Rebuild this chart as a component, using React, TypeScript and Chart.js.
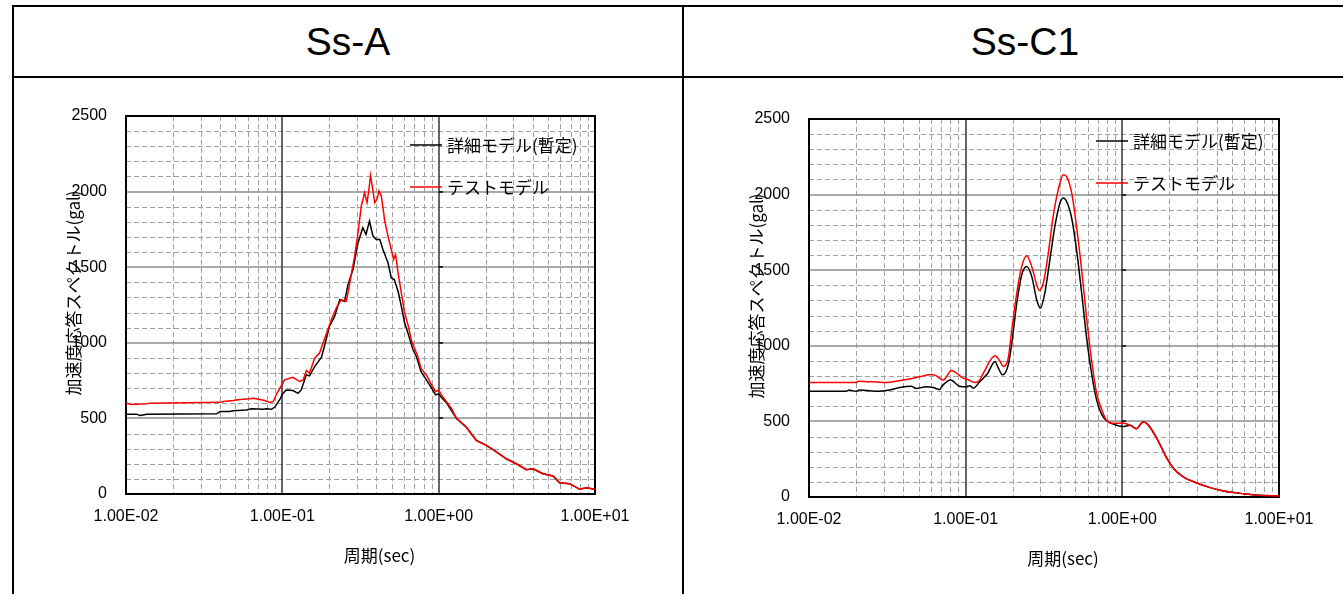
import React, { useEffect, useRef } from "react";
import { Chart, registerables } from "chart.js";

Chart.register(...registerables);

// ---- texts ----
const PANEL_TITLES = ["Ss-A", "Ss-C1"];
const SERIES_LABELS = ["詳細モデル(暫定)", "テストモデル"];
const SERIES_COLORS = ["#000000", "#ff0000"];
const X_TITLE = "周期(sec)";
const Y_TITLE = "加速度応答スペクトル(gal)";

// ---- axis ticks ----
const PERIOD_DECADES = [0.01, 0.1, 1, 10];
const PERIOD_MINOR_MULTIPLIERS = [2, 3, 4, 5, 6, 7, 8, 9];
const ACCEL_MAJOR_TICKS = [0, 500, 1000, 1500, 2000, 2500];
const ACCEL_MINOR_STEP = 100;

// ---- Ss-A ----
const ssA_detailPeriod = [0.01, 0.0117, 0.0123, 0.0136, 0.038, 0.04, 0.046, 0.0486, 0.059, 0.0635, 0.0755, 0.079, 0.085, 0.0897, 0.097, 0.1, 0.106, 0.117, 0.126, 0.132, 0.1425, 0.149, 0.161, 0.178, 0.187, 0.2, 0.216, 0.233, 0.25, 0.263, 0.283, 0.305, 0.327, 0.343, 0.361, 0.38, 0.398, 0.42, 0.44, 0.474, 0.498, 0.52, 0.55, 0.577, 0.606, 0.636, 0.685, 0.72, 0.77, 0.834, 0.89, 0.955, 1.0, 1.04, 1.12, 1.3, 1.5, 1.74, 2.02, 2.34, 2.71, 3.14, 3.64, 4.01, 4.65, 5.39, 5.94, 6.89, 7.98, 8.81, 10];
const ssA_detailAccel = [528, 528, 520, 528, 530, 545, 545, 550, 556, 564, 560, 564, 560, 575, 630, 660, 688, 684, 666, 688, 788, 781, 843, 905, 987, 1109, 1175, 1286, 1274, 1385, 1485, 1662, 1761, 1717, 1805, 1706, 1684, 1684, 1617, 1529, 1429, 1418, 1341, 1241, 1131, 1064, 954, 910, 810, 755, 710, 655, 662, 640, 604, 500, 443, 355, 322, 278, 233, 200, 161, 167, 134, 119, 75, 68, 31, 42, 31];
const ssA_testPeriod = [0.01, 0.0109, 0.0136, 0.0142, 0.0399, 0.0419, 0.0486, 0.0535, 0.062, 0.065, 0.072, 0.077, 0.083, 0.0876, 0.092, 0.1, 0.1035, 0.117, 0.129, 0.136, 0.1425, 0.149, 0.161, 0.173, 0.187, 0.206, 0.221, 0.238, 0.257, 0.27, 0.29, 0.305, 0.32, 0.336, 0.348, 0.357, 0.367, 0.38, 0.39, 0.403, 0.415, 0.43, 0.452, 0.474, 0.498, 0.515, 0.53, 0.55, 0.577, 0.606, 0.636, 0.668, 0.7, 0.735, 0.77, 0.834, 0.89, 0.955, 1.0, 1.04, 1.12, 1.205, 1.3, 1.5, 1.74, 2.02, 2.34, 2.71, 3.14, 3.64, 4.01, 4.65, 5.39, 5.94, 6.89, 7.98, 8.81, 10];
const ssA_testAccel = [601, 592, 597, 601, 606, 612, 619, 625, 630, 634, 625, 619, 606, 612, 663, 728, 755, 772, 744, 755, 817, 799, 898, 932, 1031, 1153, 1230, 1286, 1274, 1396, 1573, 1728, 1905, 1993, 1927, 2004, 2108, 2004, 1927, 1949, 2004, 1971, 1805, 1706, 1617, 1551, 1584, 1462, 1330, 1197, 1120, 1020, 965, 910, 832, 788, 732, 677, 688, 655, 611, 567, 500, 443, 355, 322, 278, 233, 200, 161, 167, 134, 119, 75, 68, 31, 42, 31];

// ---- Ss-C1 ----
const ssC1_detailPeriod = [0.01, 0.0173, 0.018, 0.02, 0.021, 0.0283, 0.0327, 0.038, 0.045, 0.0484, 0.056, 0.062, 0.068, 0.0716, 0.08, 0.0914, 0.101, 0.1066, 0.112, 0.123, 0.1297, 0.138, 0.154, 0.16, 0.172, 0.187, 0.197, 0.212, 0.228, 0.245, 0.264, 0.284, 0.3, 0.32, 0.345, 0.371, 0.4, 0.42, 0.44, 0.475, 0.51, 0.55, 0.59, 0.636, 0.685, 0.74, 0.81, 0.876, 1.0, 1.125, 1.23, 1.355, 1.437, 1.62, 1.75, 1.93, 2.13, 2.46, 2.99, 3.64, 4.43, 5.12, 5.94, 7.59, 10];
const ssC1_detailAccel = [700, 700, 707, 700, 707, 700, 707, 724, 733, 718, 729, 724, 711, 740, 773, 733, 729, 735, 720, 762, 786, 817, 896, 863, 808, 874, 1018, 1283, 1470, 1525, 1459, 1305, 1249, 1349, 1570, 1790, 1945, 1978, 1956, 1845, 1636, 1349, 1062, 819, 642, 543, 499, 482, 466, 474, 452, 496, 485, 407, 341, 253, 187, 132, 93, 62, 40, 29, 22, 11, 7];
const ssC1_testPeriod = [0.01, 0.02, 0.0206, 0.0311, 0.0343, 0.0418, 0.0508, 0.0604, 0.065, 0.0716, 0.0814, 0.087, 0.0958, 0.103, 0.1147, 0.123, 0.1297, 0.154, 0.166, 0.174, 0.187, 0.197, 0.212, 0.228, 0.245, 0.264, 0.284, 0.295, 0.313, 0.337, 0.362, 0.39, 0.42, 0.44, 0.475, 0.51, 0.55, 0.59, 0.636, 0.685, 0.74, 0.79, 0.876, 1.0, 1.125, 1.23, 1.355, 1.437, 1.62, 1.75, 1.93, 2.13, 2.46, 2.99, 3.64, 4.43, 5.12, 5.94, 7.59, 10];
const ssC1_testAccel = [757, 757, 766, 757, 762, 777, 795, 810, 801, 773, 837, 821, 788, 777, 757, 773, 819, 934, 896, 863, 918, 1106, 1349, 1525, 1596, 1525, 1404, 1366, 1415, 1614, 1857, 2033, 2132, 2121, 2011, 1790, 1503, 1194, 907, 687, 576, 510, 488, 489, 474, 452, 496, 485, 407, 341, 253, 187, 132, 93, 62, 40, 29, 22, 11, 7];

function formatSci(v: number): string {
  const e = Math.round(Math.log10(v));
  const m = v / Math.pow(10, e);
  const sign = e < 0 ? "-" : "+";
  return m.toFixed(2) + "E" + sign + String(Math.abs(e)).padStart(2, "0");
}

const isDecade = (v: number) => PERIOD_DECADES.some((d) => Math.abs(d - v) / d < 1e-9);
const isAccelMajor = (v: number) => ACCEL_MAJOR_TICKS.includes(v);

type PanelProps = {
  detailPeriod: number[];
  detailAccel: number[];
  testPeriod: number[];
  testAccel: number[];
  width: number;
  height: number;
  padLeft: number;
  padTop: number;
  padRight: number;
  padBottom: number;
  legendX: number;
  legendY: number[];
  smooth: boolean;
};

function SpectrumChart(p: PanelProps) {
  const ref = useRef<HTMLCanvasElement | null>(null);

  useEffect(() => {
    if (!ref.current) return;
    const line = (ctx: CanvasRenderingContext2D, x1: number, y1: number, x2: number, y2: number) => {
      ctx.beginPath();
      ctx.moveTo(x1, y1);
      ctx.lineTo(x2, y2);
      ctx.stroke();
    };

    const framePlugin = {
      id: "frame",
      beforeDatasetsDraw(chart: any) {
        const { ctx, chartArea: a, scales } = chart;
        const xs = scales.x;
        const ys = scales.y;
        ctx.save();
        ctx.setLineDash([5, 3]);
        ctx.strokeStyle = "#a0a0a0";
        ctx.lineWidth = 1;
        xs.ticks.forEach((t: any) => {
          if (!isDecade(t.value)) {
            const px = Math.round(xs.getPixelForValue(t.value)) + 0.5;
            line(ctx, px, a.top, px, a.bottom);
          }
        });
        ys.ticks.forEach((t: any) => {
          if (!isAccelMajor(t.value)) {
            const py = Math.round(ys.getPixelForValue(t.value)) + 0.5;
            line(ctx, a.left, py, a.right, py);
          }
        });
        ctx.setLineDash([]);
        ctx.strokeStyle = "#8c8c8c";
        ctx.lineWidth = 1.5;
        ys.ticks.forEach((t: any) => {
          if (isAccelMajor(t.value)) {
            const py = Math.round(ys.getPixelForValue(t.value));
            line(ctx, a.left, py, a.right, py);
          }
        });
        ctx.strokeStyle = "#333333";
        ctx.lineWidth = 1.5;
        xs.ticks.forEach((t: any) => {
          if (isDecade(t.value)) {
            const px = Math.round(xs.getPixelForValue(t.value));
            line(ctx, px, a.top, px, a.bottom);
          }
        });
        const p1 = Math.round(xs.getPixelForValue(1));
        ctx.strokeStyle = "#000";
        ACCEL_MAJOR_TICKS.forEach((v) => {
          const py = Math.round(ys.getPixelForValue(v));
          line(ctx, p1, py, p1 + 4, py);
        });
        ctx.strokeStyle = "#000";
        ctx.lineWidth = 2;
        ctx.strokeRect(a.left, a.top, a.right - a.left, a.bottom - a.top);
        ctx.restore();
      },
      afterDatasetsDraw(chart: any) {
        const { ctx, chartArea: a } = chart;
        ctx.save();
        ctx.font = "17px 'Noto Sans CJK JP'";
        ctx.textAlign = "left";
        ctx.textBaseline = "middle";
        chart.data.datasets.forEach((ds: any, i: number) => {
          const ly = a.top + p.legendY[i];
          const lx = a.right - p.legendX;
          ctx.strokeStyle = ds.borderColor;
          ctx.lineWidth = 1.5;
          line(ctx, lx, ly, lx + 32, ly);
          ctx.fillStyle = "#000";
          ctx.fillText(ds.label, lx + 37, ly + 1);
        });
        ctx.font = "17px 'Noto Sans CJK JP'";
        ctx.textAlign = "center";
        ctx.fillStyle = "#000";
        ctx.fillText(X_TITLE, (a.left + a.right) / 2 + 19, a.bottom + 62);
        ctx.translate(a.left - 52, (a.top + a.bottom) / 2 - 12);
        ctx.rotate(-Math.PI / 2);
        ctx.fillText(Y_TITLE, 0, 0);
        ctx.restore();
      },
    };

    const chart = new Chart(ref.current, {
      type: "line",
      data: {
        datasets: [
          {
            label: SERIES_LABELS[0],
            data: p.detailPeriod.map((t, i) => ({ x: t, y: p.detailAccel[i] })),
            borderColor: SERIES_COLORS[0],
            borderWidth: 1.5,
            pointRadius: 0,
            fill: false,
            order: 2,
            tension: p.smooth ? 0.4 : 0,
            cubicInterpolationMode: p.smooth ? "monotone" : "default",
          },
          {
            label: SERIES_LABELS[1],
            data: p.testPeriod.map((t, i) => ({ x: t, y: p.testAccel[i] })),
            borderColor: SERIES_COLORS[1],
            borderWidth: 1.5,
            pointRadius: 0,
            fill: false,
            order: 1,
            tension: p.smooth ? 0.4 : 0,
            cubicInterpolationMode: p.smooth ? "monotone" : "default",
          },
        ],
      },
      options: {
        animation: false,
        responsive: false,
        maintainAspectRatio: false,
        layout: { padding: { left: 0, top: p.padTop, right: p.padRight, bottom: 0 } },
        plugins: {
          legend: { display: false },
          tooltip: { enabled: false },
        },
        scales: {
          x: {
            type: "logarithmic",
            min: PERIOD_DECADES[0],
            max: PERIOD_DECADES[PERIOD_DECADES.length - 1],
            grid: { display: false, drawTicks: false },
            border: { display: false },
            afterBuildTicks: (scale: any) => {
              const ticks: any[] = [];
              PERIOD_DECADES.forEach((d, i) => {
                ticks.push({ value: d, major: true });
                if (i < PERIOD_DECADES.length - 1) {
                  PERIOD_MINOR_MULTIPLIERS.forEach((m) => ticks.push({ value: d * m, major: false }));
                }
              });
              scale.ticks = ticks;
            },
            afterFit: (scale: any) => {
              scale.height = p.padBottom;
            },
            ticks: {
              autoSkip: false,
              maxRotation: 0,
              minRotation: 0,
              padding: 13,
              color: "#000",
              font: { family: "'Liberation Sans', Arial, sans-serif", size: 16 },
              callback: (v: any) => (isDecade(Number(v)) ? formatSci(Number(v)) : ""),
            },
          },
          y: {
            type: "linear",
            min: ACCEL_MAJOR_TICKS[0],
            max: ACCEL_MAJOR_TICKS[ACCEL_MAJOR_TICKS.length - 1],
            grid: { display: false, drawTicks: false },
            border: { display: false },
            afterBuildTicks: (scale: any) => {
              const ticks: any[] = [];
              const last = ACCEL_MAJOR_TICKS[ACCEL_MAJOR_TICKS.length - 1];
              for (let v = ACCEL_MAJOR_TICKS[0]; v <= last; v += ACCEL_MINOR_STEP) ticks.push({ value: v });
              scale.ticks = ticks;
            },
            afterFit: (scale: any) => {
              scale.width = p.padLeft;
            },
            ticks: {
              autoSkip: false,
              padding: 19,
              color: "#000",
              font: { family: "'Liberation Sans', Arial, sans-serif", size: 16 },
              callback: (v: any) => (isAccelMajor(Number(v)) ? String(v) : ""),
            },
          },
        },
      } as any,
      plugins: [framePlugin as any],
    } as any);
    return () => chart.destroy();
  }, []);

  return <canvas ref={ref} width={p.width} height={p.height} style={{ width: p.width, height: p.height, display: "block" }} />;
}

const bar = (left: number, top: number, width: number, height: number): React.CSSProperties => ({
  position: "absolute",
  left,
  top,
  width,
  height,
  background: "#000",
});

const headerStyle = (left: number, width: number): React.CSSProperties => ({
  position: "absolute",
  left,
  top: 7,
  width,
  height: 69,
  lineHeight: "69px",
  textAlign: "center",
  fontFamily: "'Liberation Sans', Arial, sans-serif",
  fontSize: 39,
  color: "#000",
});

export default function App() {
  return (
    <div style={{ position: "absolute", left: 0, top: 0, width: 1343, height: 594, overflow: "hidden", background: "#fff" }}>
      <div style={headerStyle(14, 668)}>{PANEL_TITLES[0]}</div>
      <div style={headerStyle(684, 682)}>{PANEL_TITLES[1]}</div>
      <div style={{ position: "absolute", left: 14, top: 78 }}>
        <SpectrumChart
          detailPeriod={ssA_detailPeriod}
          detailAccel={ssA_detailAccel}
          testPeriod={ssA_testPeriod}
          testAccel={ssA_testAccel}
          width={668}
          height={516}
          padLeft={112}
          padTop={38}
          padRight={87}
          padBottom={100}
          legendX={185}
          legendY={[29, 71]}
          smooth={false}
        />
      </div>
      <div style={{ position: "absolute", left: 684, top: 78 }}>
        <SpectrumChart
          detailPeriod={ssC1_detailPeriod}
          detailAccel={ssC1_detailAccel}
          testPeriod={ssC1_testPeriod}
          testAccel={ssC1_testAccel}
          width={659}
          height={516}
          padLeft={125}
          padTop={41}
          padRight={64}
          padBottom={97}
          legendX={183}
          legendY={[22, 64]}
          smooth={true}
        />
      </div>
      <div style={bar(12, 5, 1340, 2)} />
      <div style={bar(12, 76, 1340, 2)} />
      <div style={bar(12, 5, 2, 600)} />
      <div style={bar(682, 5, 2, 600)} />
    </div>
  );
}
